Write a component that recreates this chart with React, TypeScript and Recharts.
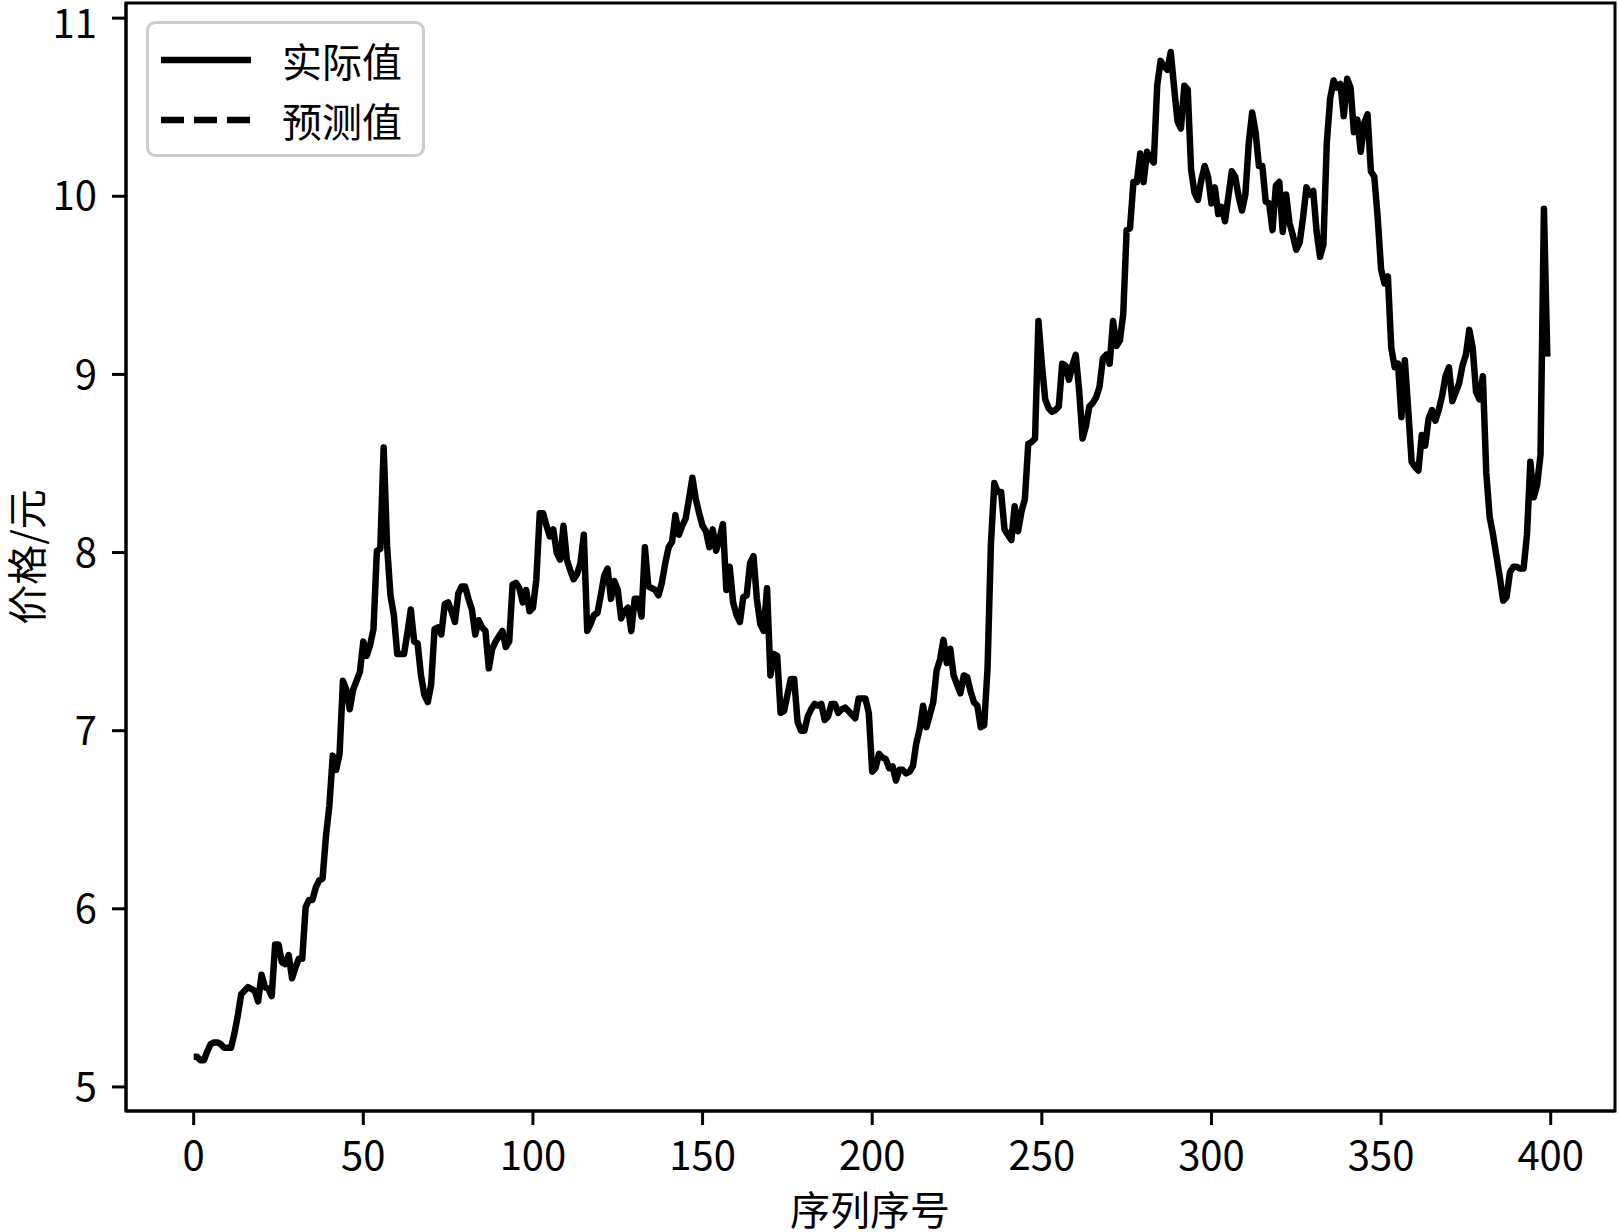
import React from 'react';
import { LineChart, Line, XAxis, YAxis, ReferenceArea, Legend, Label } from 'recharts';

// 实际值 (index 0..399)
const actualValues: number[] = [
  5.17, 5.17, 5.15, 5.15, 5.20, 5.24, 5.25, 5.25, 5.24, 5.22,
  5.22, 5.22, 5.30, 5.40, 5.52, 5.54, 5.56, 5.55, 5.54, 5.48,
  5.63, 5.56, 5.55, 5.51, 5.80, 5.80, 5.70, 5.69, 5.74, 5.61,
  5.67, 5.72, 5.72, 6.01, 6.05, 6.05, 6.12, 6.16, 6.17, 6.41,
  6.58, 6.86, 6.78, 6.87, 7.28, 7.23, 7.12, 7.23, 7.28, 7.33,
  7.50, 7.42, 7.48, 7.57, 8.01, 8.02, 8.59, 8.04, 7.76, 7.65,
  7.43, 7.43, 7.43, 7.55, 7.68, 7.50, 7.49, 7.31, 7.20, 7.16,
  7.26, 7.57, 7.58, 7.54, 7.71, 7.72, 7.67, 7.61, 7.77, 7.81,
  7.81, 7.74, 7.68, 7.54, 7.62, 7.58, 7.56, 7.35, 7.46, 7.50,
  7.53, 7.56, 7.47, 7.50, 7.82, 7.83, 7.80, 7.72, 7.79, 7.67,
  7.69, 7.85, 8.22, 8.22, 8.15, 8.09, 8.13, 8.00, 7.96, 8.15,
  7.96, 7.90, 7.85, 7.88, 7.94, 8.10, 7.56, 7.60, 7.65, 7.66,
  7.76, 7.87, 7.91, 7.74, 7.84, 7.79, 7.63, 7.67, 7.69, 7.56,
  7.74, 7.74, 7.64, 8.03, 7.81, 7.80, 7.79, 7.76, 7.83, 7.94,
  8.03, 8.06, 8.21, 8.10, 8.15, 8.19, 8.30, 8.42, 8.30, 8.22,
  8.15, 8.12, 8.03, 8.13, 8.01, 8.08, 8.16, 7.79, 7.92, 7.72,
  7.65, 7.61, 7.75, 7.76, 7.94, 7.98, 7.74, 7.60, 7.56, 7.80,
  7.31, 7.43, 7.42, 7.10, 7.11, 7.20, 7.29, 7.29, 7.05, 7.00,
  7.00, 7.08, 7.12, 7.15, 7.14, 7.15, 7.06, 7.08, 7.15, 7.15,
  7.10, 7.12, 7.13, 7.11, 7.09, 7.07, 7.18, 7.18, 7.18, 7.10,
  6.77, 6.79, 6.87, 6.85, 6.84, 6.79, 6.80, 6.72, 6.78, 6.78,
  6.76, 6.77, 6.80, 6.93, 7.01, 7.14, 7.02, 7.09, 7.16, 7.34,
  7.40, 7.51, 7.38, 7.46, 7.31, 7.26, 7.21, 7.31, 7.30, 7.22,
  7.16, 7.14, 7.02, 7.03, 7.35, 8.05, 8.39, 8.34, 8.34, 8.13,
  8.10, 8.07, 8.26, 8.12, 8.23, 8.30, 8.61, 8.62, 8.64, 9.30,
  9.06, 8.86, 8.81, 8.79, 8.80, 8.82, 9.06, 9.05, 8.97, 9.05,
  9.11, 8.91, 8.64, 8.71, 8.82, 8.84, 8.87, 8.93, 9.09, 9.11,
  9.06, 9.30, 9.16, 9.19, 9.34, 9.81, 9.82, 10.08, 10.08, 10.24,
  10.08, 10.25, 10.21, 10.19, 10.62, 10.76, 10.73, 10.71, 10.81, 10.61,
  10.42, 10.38, 10.62, 10.60, 10.15, 10.02, 9.98, 10.09, 10.17, 10.11,
  9.96, 10.05, 9.90, 9.94, 9.86, 10.00, 10.14, 10.11, 10.00, 9.92,
  10.01, 10.30, 10.47, 10.36, 10.17, 10.17, 9.97, 9.96, 9.81, 10.06,
  10.08, 9.80, 10.01, 9.85, 9.78, 9.70, 9.74, 9.88, 10.05, 10.01,
  10.03, 9.80, 9.66, 9.73, 10.30, 10.55, 10.65, 10.61, 10.63, 10.45,
  10.66, 10.61, 10.36, 10.43, 10.25, 10.41, 10.46, 10.14, 10.11, 9.88,
  9.59, 9.51, 9.55, 9.15, 9.04, 9.06, 8.76, 9.08, 8.80, 8.51,
  8.48, 8.46, 8.66, 8.60, 8.75, 8.80, 8.74, 8.80, 8.88, 8.99,
  9.04, 8.85, 8.90, 8.95, 9.05, 9.11, 9.25, 9.15, 8.90, 8.86,
  8.99, 8.45, 8.20, 8.10, 7.98, 7.86, 7.73, 7.75, 7.89, 7.92,
  7.92, 7.91, 7.91, 8.10, 8.51, 8.31, 8.38, 8.55, 9.93, 9.10,
];

const xTicks = [0, 50, 100, 150, 200, 250, 300, 350, 400];
const yTicks = [5, 6, 7, 8, 9, 10, 11];
const xDomain: [number, number] = [-19.95, 418.95];
const yDomain: [number, number] = [4.865, 11.085];

const legendItems = [
  { name: '实际值', dash: undefined as string | undefined },
  { name: '预测值', dash: '23 10' },
];

const chartData = actualValues.map((v, i) => ({ idx: i, actual: v }));

const FONT = '"Noto Sans CJK SC", "Noto Sans", sans-serif';

const LegendBox = () => (
  <svg width={280} height={137} style={{ display: 'block' }}>
    <rect x={1.5} y={1.5} width={276} height={133} rx={8} ry={8}
      fill="rgba(255,255,255,0.8)" stroke="#cccccc" strokeWidth={3} />
    {legendItems.map((item, i) => (
      <g key={item.name}>
        <line x1={15} x2={105} y1={39 + i * 60} y2={39 + i * 60}
          stroke="#000" strokeWidth={6.5} strokeDasharray={item.dash} />
        <text x={136} y={39 + i * 60} dominantBaseline="central" fontSize={40}
          fontFamily={FONT} fill="#000">{item.name}</text>
      </g>
    ))}
  </svg>
);

export default function App() {
  return (
    <div style={{ position: 'absolute', left: 0, top: 0, width: 1618, height: 1232, background: '#fff' }}>
      <LineChart width={1618} height={1232} data={chartData}
        margin={{ top: 3, right: 3, bottom: 0, left: 0 }}>
        <XAxis dataKey="idx" type="number" domain={xDomain} ticks={xTicks} allowDataOverflow
          height={121} tickSize={14} tickMargin={17}
          axisLine={{ stroke: '#000', strokeWidth: 3 }}
          tickLine={{ stroke: '#000', strokeWidth: 3 }}
          tick={{ fill: '#000', fontSize: 40, fontFamily: FONT }}>
          <Label content={() => (
            <text x={870} y={1208} textAnchor="middle" dominantBaseline="central"
              fontSize={40} fontFamily={FONT} fill="#000">序列序号</text>
          )} />
        </XAxis>
        <YAxis type="number" domain={yDomain} ticks={yTicks} allowDataOverflow
          width={126} tickSize={14} tickMargin={15}
          axisLine={{ stroke: '#000', strokeWidth: 3 }}
          tickLine={{ stroke: '#000', strokeWidth: 3 }}
          tick={{ fill: '#000', fontSize: 40, fontFamily: FONT }}>
          <Label content={() => (
            <text x={25} y={557} textAnchor="middle" dominantBaseline="central"
              transform="rotate(-90, 25, 557)"
              fontSize={40} fontFamily={FONT} fill="#000">价格/元</text>
          )} />
        </YAxis>
        <ReferenceArea x1={xDomain[0]} x2={xDomain[1]} y1={yDomain[0]} y2={yDomain[1]}
          fill="none" fillOpacity={0} stroke="#000" strokeWidth={3} ifOverflow="visible" />
        <Line type="linear" dataKey="actual" name="实际值" stroke="#000" strokeWidth={6.5}
          dot={false} activeDot={false} isAnimationActive={false} strokeLinejoin="round" />
        <Legend layout="vertical" align="center" verticalAlign="middle"
          wrapperStyle={{ position: 'absolute', left: 146, top: 21, width: 280, height: 137 }}
          content={() => <LegendBox />} />
      </LineChart>
    </div>
  );
}
